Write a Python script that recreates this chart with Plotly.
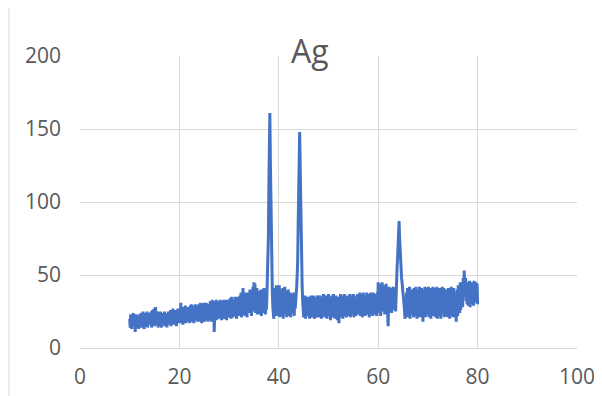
import numpy as np
import plotly.graph_objects as go

# 2-theta scan: 10.0 to 80.0 deg, step 0.1 deg
x_start = 10.0
x_step = 0.1

intensity = [
    20, 14, 23, 16, 13, 22, 18, 24, 15, 19, 21, 11, 17, 23, 14, 20, 16, 22, 13, 21,   # 10
    23, 15, 19, 24, 14, 21, 17, 25, 16, 13, 22, 18, 24, 15, 20, 25, 14, 19, 23, 16,   # 12
    24, 16, 21, 25, 14, 19, 26, 17, 22, 27, 15, 20, 28, 16, 23, 18, 25, 14, 21, 24,   # 14
    22, 15, 25, 18, 14, 23, 20, 24, 16, 19, 25, 15, 21, 17, 24, 14, 22, 19, 25, 16,   # 16
    23, 17, 26, 15, 21, 25, 18, 27, 16, 22, 24, 17, 26, 19, 15, 25, 20, 27, 17, 23,   # 18
    26, 18, 29, 31, 17, 24, 28, 16, 22, 27, 19, 25, 29, 17, 23, 28, 18, 26, 21, 28,   # 20
    25, 17, 29, 21, 30, 18, 26, 23, 29, 17, 27, 20, 30, 19, 24, 28, 18, 29, 22, 30,   # 22
    26, 18, 31, 20, 28, 17, 30, 23, 19, 31, 25, 18, 29, 22, 31, 19, 27, 24, 18, 30,   # 24
    28, 19, 32, 23, 30, 18, 33, 21, 27, 32, 11, 24, 31, 20, 33, 19, 28, 25, 32, 20,   # 26
    29, 20, 33, 24, 31, 19, 32, 26, 21, 33, 28, 20, 31, 23, 33, 19, 30, 25, 33, 21,   # 28
    30, 22, 34, 25, 20, 35, 27, 32, 21, 33, 29, 22, 35, 24, 31, 20, 34, 26, 35, 22,   # 30
    31, 23, 36, 26, 38, 21, 33, 28, 41, 23, 35, 30, 22, 38, 27, 36, 21, 34, 29, 38,   # 32
    33, 24, 40, 27, 38, 22, 36, 30, 42, 25, 45, 31, 44, 24, 39, 28, 41, 23, 37, 30,   # 34
    39, 23, 36, 28, 40, 22, 35, 30, 38, 24, 41, 29, 37, 23, 39, 26, 35, 45, 55, 75,   # 36
    110, 140, 161, 130, 100, 70, 48, 38, 28, 22, 20, 36, 24, 41, 28, 43, 22, 38, 30, 40,  # 38
    25, 43, 21, 37, 29, 40, 22, 35, 41, 20, 38, 27, 42, 23, 34, 39, 21, 36, 28, 40,   # 40
    22, 36, 28, 38, 21, 33, 37, 24, 35, 29, 38, 22, 34, 27, 37, 38, 42, 50, 60, 85,   # 42
    110, 135, 148, 125, 95, 70, 52, 42, 33, 26, 21, 34, 24, 36, 20, 31, 27, 35, 22, 33,  # 44
    27, 35, 20, 32, 25, 36, 21, 30, 34, 22, 36, 26, 20, 33, 28, 35, 21, 31, 36, 23,   # 46
    34, 21, 29, 36, 24, 33, 20, 35, 27, 22, 37, 25, 31, 21, 34, 28, 36, 20, 32, 26,   # 48
    37, 22, 30, 35, 19, 33, 26, 36, 21, 29, 37, 23, 34, 20, 31, 36, 24, 35, 19, 32,   # 50
    27, 17, 35, 23, 37, 21, 32, 28, 36, 20, 34, 25, 37, 22, 30, 35, 21, 33, 27, 36,   # 52
    22, 35, 28, 37, 21, 33, 26, 36, 23, 31, 37, 21, 34, 27, 35, 22, 32, 36, 24, 37,   # 54
    23, 34, 29, 38, 22, 36, 26, 37, 21, 33, 38, 24, 30, 36, 22, 35, 28, 38, 23, 34,   # 56
    27, 37, 21, 35, 30, 38, 23, 33, 36, 22, 38, 26, 34, 23, 37, 29, 35, 22, 38, 27,   # 58
    45, 24, 38, 30, 44, 22, 40, 27, 45, 25, 36, 31, 43, 23, 39, 28, 44, 26, 35, 24,   # 60
    15, 32, 42, 25, 38, 29, 41, 24, 36, 30, 42, 26, 39, 28, 41, 25, 45, 50, 55, 62,   # 62
    72, 80, 87, 76, 65, 58, 52, 48, 45, 42, 40, 35, 30, 25, 20, 33, 22, 38, 26, 41,   # 64
    21, 36, 28, 42, 20, 34, 39, 23, 40, 27, 35, 21, 41, 25, 38, 22, 42, 29, 20, 37,   # 66
    24, 40, 29, 42, 21, 36, 27, 41, 22, 39, 18, 33, 40, 25, 42, 21, 37, 28, 41, 23,   # 68
    35, 42, 21, 38, 27, 41, 20, 34, 40, 24, 42, 22, 36, 29, 41, 21, 39, 26, 42, 20,   # 70
    33, 39, 22, 41, 27, 36, 20, 40, 30, 42, 23, 35, 41, 21, 38, 26, 40, 22, 34, 39,   # 72
    21, 41, 28, 37, 20, 40, 25, 42, 22, 35, 39, 21, 41, 26, 38, 30, 22, 18, 36, 40,   # 74
    22, 43, 28, 38, 24, 45, 26, 41, 30, 44, 28, 48, 35, 53, 46, 40, 48, 32, 44, 30,   # 76
    45, 29, 42, 35, 46, 28, 40, 33, 45, 30, 44, 36, 29, 46, 31, 43, 34, 45, 32, 44,   # 78
    30,                                                                               # 80
]
two_theta = np.round(x_start + x_step * np.arange(len(intensity)), 1)

title_text = "Ag"
x_ticks = [0, 20, 40, 60, 80, 100]
y_ticks = [0, 50, 100, 150, 200]

font_family = "Open Sans, Lato, sans-serif"
text_color = "#595959"
grid_color = "#d9d9d9"

fig = go.Figure()
fig.add_trace(go.Scatter(
    x=two_theta, y=intensity, mode="lines",
    line=dict(color="#4472C4", width=3),
    showlegend=False, hoverinfo="x+y",
))

# page body has an 8px margin, so the figure is 8px smaller than the window
fig.update_layout(
    width=594, height=388,
    margin=dict(l=72, r=25, t=48, b=48),
    paper_bgcolor="white", plot_bgcolor="white",
    font=dict(family=font_family, color=text_color, size=21),
    showlegend=False,
)
fig.update_xaxes(
    range=[0, 100], tickvals=x_ticks, ticktext=[str(v) for v in x_ticks],
    showgrid=True, gridcolor=grid_color, gridwidth=1,
    zeroline=False, showline=True, linecolor=grid_color, linewidth=1,
    ticks="", ticklabelstandoff=10, automargin=False,
    tickfont=dict(size=21, color=text_color),
)
fig.update_yaxes(
    range=[0, 200], tickvals=y_ticks, ticktext=[str(v) for v in y_ticks],
    showgrid=True, gridcolor=grid_color, gridwidth=1,
    zeroline=False, showline=False,
    ticks="", ticklabelstandoff=18, automargin=False,
    tickfont=dict(size=21, color=text_color),
)

# chart-area frame (extends past the right and bottom edges of the picture)
fig.add_shape(type="rect", xref="paper", yref="paper",
              x0=-0.143, x1=1.1, y0=-0.3, y1=1.171,
              line=dict(color=grid_color, width=1), fillcolor="rgba(0,0,0,0)",
              layer="below")

fig.add_annotation(
    text=title_text, xref="paper", yref="paper",
    x=0.463, y=1.02, xanchor="center", yanchor="middle",
    showarrow=False, bgcolor="white",
    font=dict(size=32, color=text_color, family=font_family),
)

fig.write_html("out.html")
